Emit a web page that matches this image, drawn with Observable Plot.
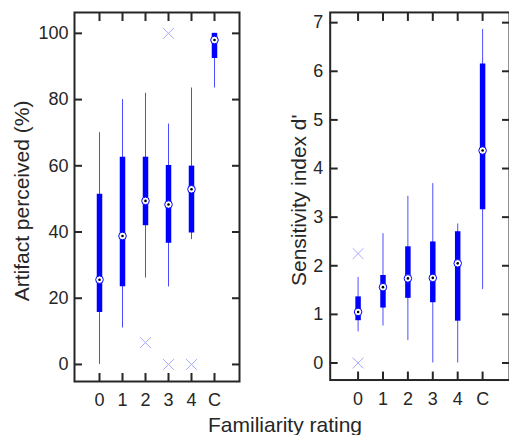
<!DOCTYPE html>
<html>
<head>
<meta charset="utf-8">
<script src="https://cdn.jsdelivr.net/npm/d3@7"></script>
<script src="https://cdn.jsdelivr.net/npm/@observablehq/plot@0.6"></script>
<style>
  html, body { margin: 0; padding: 0; background: #fff; overflow: hidden; }
  #wrap { position: relative; width: 509px; height: 435px; overflow: hidden;
          font-family: "Liberation Sans", Arial, Helvetica, sans-serif; color: #262626; }
  #left, #right { position: absolute; top: 0; }
  #left { left: 0; }
  #right { left: 250px; }
  #xlabel { position: absolute; left: 0; width: 570px; top: 414px; text-align: center;
            font-size: 21px; line-height: 1; color: #262626; white-space: nowrap; }
</style>
</head>
<body>
<div id="wrap">
  <div id="left"></div>
  <div id="right"></div>
  <div id="xlabel">Familiarity rating</div>
</div>
<script>
// Categories (familiarity rating)
const cats = ["0", "1", "2", "3", "4", "C"];

// Left panel: Artifact perceived (%)
const artLow  = [0,    11,   26.1, 23.4, 37.7, 83.5];
const artQ1   = [15.7, 23.5, 41.9, 36.6, 39.7, 92.4];
const artMed  = [25.6, 38.8, 49.4, 48.3, 52.9, 98.0];
const artQ3   = [51.4, 62.6, 62.6, 60.1, 59.9, 100];
const artHigh = [70,   80,   81.9, 72.6, 83.5, 100];
const artOutCat = ["2", "3", "3", "4"];
const artOutVal = [6.6, 100, 0, 0];
const artTicks = [0, 20, 40, 60, 80, 100];

// Right panel: Sensitivity index d'
const dLow  = [0.64, 0.76, 0.46, 0.00, 0.00, 1.51];
const dQ1   = [0.87, 1.13, 1.33, 1.24, 0.86, 3.15];
const dMed  = [1.05, 1.56, 1.74, 1.75, 2.05, 4.37];
const dQ3   = [1.36, 1.80, 2.39, 2.49, 2.70, 6.15];
const dHigh = [1.76, 2.66, 3.43, 3.69, 2.86, 6.86];
const dOutCat = ["0", "0"];
const dOutVal = [2.25, 0];
const dTicks = [0, 1, 2, 3, 4, 5, 6, 7];

const INK = "#262626";
const BLUE = "#0000ff";

function rowsOf(low, q1, med, q3, high) {
  return cats.map((c, i) => ({cat: c, low: low[i], q1: q1[i], med: med[i], q3: q3[i], high: high[i]}));
}
function outsOf(oc, ov) {
  return oc.map((c, i) => ({cat: c, v: ov[i]}));
}

function panel({rows, outs, yDomain, yTicks, yLabel, width, marginLeft, marginRight, labelDx, yPad}) {
  return Plot.plot({
    width, height: 435,
    marginLeft, marginRight, marginTop: 12, marginBottom: 54,
    style: {fontFamily: '"Liberation Sans", Arial, Helvetica, sans-serif', fontSize: "18px", color: INK, background: "transparent", overflow: "visible"},
    x: {type: "point", domain: cats, padding: 1, axis: null},
    y: {domain: yDomain, axis: null},
    marks: [
      // whiskers
      Plot.ruleX(rows, {x: "cat", y1: "low", y2: "high", stroke: BLUE, strokeWidth: 1, strokeOpacity: 0.7}),
      // boxes (compact)
      Plot.ruleX(rows, {x: "cat", y1: "q1", y2: "q3", stroke: BLUE, strokeWidth: 5.5}),
      // outliers
      Plot.dot(outs, {x: "cat", y: "v", symbol: "times", r: 5, stroke: "#a8a8ff", strokeWidth: 1}),
      // medians
      Plot.dot(rows, {x: "cat", y: "med", r: 3.8, fill: "white", stroke: BLUE, strokeWidth: 1}),
      Plot.dot(rows, {x: "cat", y: "med", r: 1.3, fill: "black", stroke: null}),
      // frame
      Plot.frame({stroke: INK, strokeWidth: 2}),
      // inward ticks
      Plot.axisX({anchor: "bottom", ticks: cats, tickSize: -8, fill: "none", stroke: INK, strokeWidth: 2, label: null}),
      Plot.axisX({anchor: "top", ticks: cats, tickSize: -8, fill: "none", stroke: INK, strokeWidth: 2, label: null}),
      Plot.axisY({anchor: "left", ticks: yTicks, tickSize: -8, fill: "none", stroke: INK, strokeWidth: 2, label: null}),
      Plot.axisY({anchor: "right", ticks: yTicks, tickSize: -8, fill: "none", stroke: INK, strokeWidth: 2, label: null}),
      // tick labels
      Plot.axisX({anchor: "bottom", ticks: cats, tickSize: 0, tickPadding: 12, fill: INK, fontSize: 18, label: null}),
      Plot.axisY({anchor: "left", ticks: yTicks, tickSize: 0, tickPadding: yPad, fill: INK, fontSize: 18, label: null}),
      // y label
      Plot.text([yLabel], {frameAnchor: "left", textAnchor: "middle", lineAnchor: "middle", dx: labelDx, dy: 4, rotate: -90, text: d => d, fontSize: 21, fill: INK})
    ]
  });
}

document.getElementById("left").appendChild(panel({
  rows: rowsOf(artLow, artQ1, artMed, artQ3, artHigh),
  outs: outsOf(artOutCat, artOutVal),
  yDomain: [-5.15, 106.3], yTicks: artTicks, yLabel: "Artifact perceived (%)",
  width: 250, marginLeft: 74, marginRight: 11, labelDx: -52, yPad: 6
}));
document.getElementById("right").appendChild(panel({
  rows: rowsOf(dLow, dQ1, dMed, dQ3, dHigh),
  outs: outsOf(dOutCat, dOutVal),
  yDomain: [-0.35, 7.21], yTicks: dTicks, yLabel: "Sensitivity index d'",
  width: 260, marginLeft: 80, marginRight: 0, labelDx: -31, yPad: 7
}));
</script>
</body>
</html>
